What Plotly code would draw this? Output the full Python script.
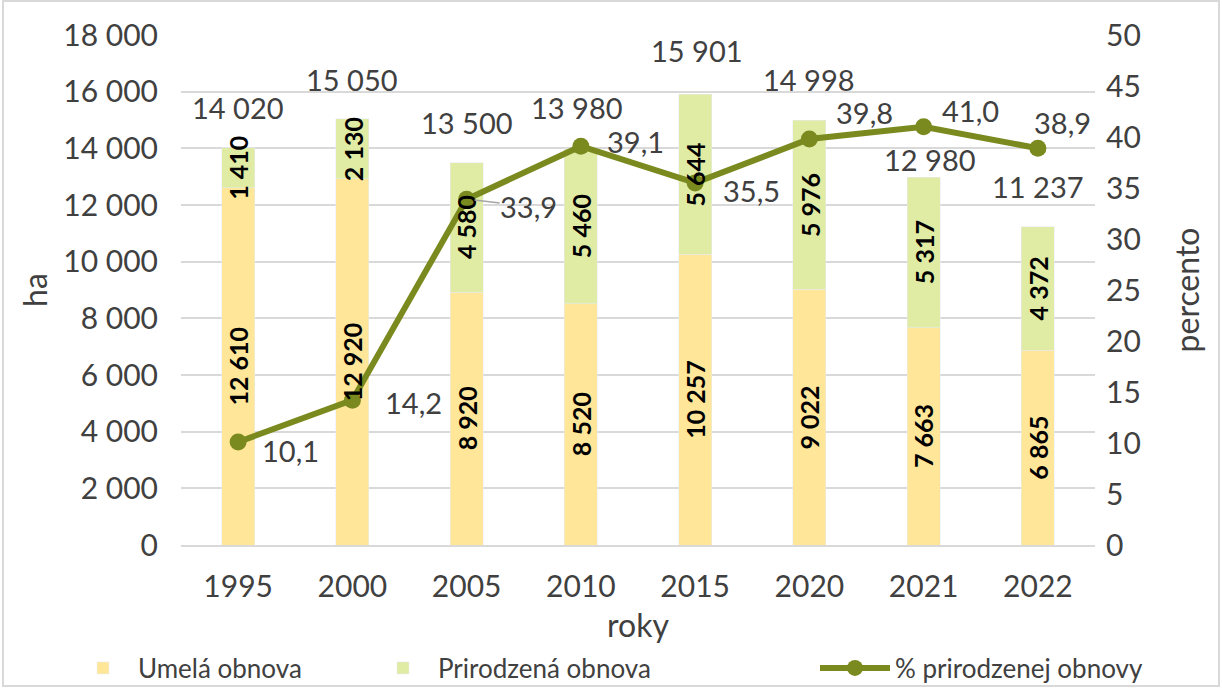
import plotly.graph_objects as go

years = ["1995", "2000", "2005", "2010", "2015", "2020", "2021", "2022"]
umela = [12610, 12920, 8920, 8520, 10257, 9022, 7663, 6865]
prirodzena = [1410, 2130, 4580, 5460, 5644, 5976, 5317, 4372]
spolu = [14020, 15050, 13500, 13980, 15901, 14998, 12980, 11237]
percento = [10.1, 14.2, 33.9, 39.1, 35.5, 39.8, 41.0, 38.9]

# label offsets (pixels) – styling only
total_shift = [40, 39, 40, 41, 44, 41, 18, 40]
total_xshift = [0, 0, 0, -4, 2, 0, 6, 0]
pct_off = [(52, 9), (61, 2), (62, 7), (55, -5), (56, 8), (55, -27), (47, -16), (25, -26)]

FONT = "Lato"
C_Y = "#FFE699"
C_G = "#E0EBA3"
C_L = "#7A8A1E"
C_T = "#404040"

fig = go.Figure()
fig.add_trace(go.Bar(x=years, y=umela, name="Umelá obnova", marker_color=C_Y,
                     width=0.29, legend="legend"))
fig.add_trace(go.Bar(x=years, y=prirodzena, name="Prirodzená obnova", marker_color=C_G,
                     width=0.29, legend="legend"))
fig.add_trace(go.Scatter(x=years, y=percento, name="% prirodzenej obnovy", yaxis="y2",
                         mode="lines+markers", line=dict(color=C_L, width=6),
                         marker=dict(size=17, color=C_L), legend="legend2"))

def fmt(v):
    return f"{v:,}".replace(",", " ")

ann = []
for i, yr in enumerate(years):
    # on a category axis, annotations are placed by category index
    ann.append(dict(x=i, y=umela[i] / 2, text=fmt(umela[i]), textangle=-90, showarrow=False,
                    font=dict(family=FONT, size=25, color="#000000", weight="bold")))
    ann.append(dict(x=i, y=umela[i] + prirodzena[i] / 2, text=fmt(prirodzena[i]), textangle=-90,
                    showarrow=False, font=dict(family=FONT, size=25, color="#000000", weight="bold")))
    ann.append(dict(x=i, y=spolu[i], text=fmt(spolu[i]), showarrow=False, yshift=total_shift[i],
                    xshift=total_xshift[i], borderpad=0, font=dict(family=FONT, size=29, color=C_T)))
    dx, dy = pct_off[i]
    if i == 2:
        ann.append(dict(x=i, y=percento[i], yref="y2", text=f"{percento[i]:.1f}".replace(".", ","),
                        showarrow=True, arrowhead=0, arrowwidth=1.5, arrowcolor="#A6A6A6",
                        ax=dx, ay=dy, standoff=8, borderpad=0,
                        font=dict(family=FONT, size=29, color=C_T)))
    else:
        ann.append(dict(x=i, y=percento[i], yref="y2", text=f"{percento[i]:.1f}".replace(".", ","),
                        showarrow=False, xshift=dx, yshift=-dy, borderpad=0,
                        font=dict(family=FONT, size=29, color=C_T)))

W, H = 1222, 688
L, R, T, B = 181, 127, 35, 143
PW, PH = W - L - R, H - T - B

fig.update_layout(
    width=W, height=H,
    margin=dict(l=L, r=R, t=T, b=B),
    paper_bgcolor="white", plot_bgcolor="white",
    barmode="stack", separators=", ",
    font=dict(family=FONT, size=30, color=C_T),
    xaxis=dict(type="category", range=[-0.5, len(years) - 0.5], automargin=False,
               title=dict(text="roky", font=dict(size=32), standoff=16),
               showgrid=False, showline=True, linecolor="#D9D9D9", linewidth=2,
               tickfont=dict(size=30), ticks="", ticklabelstandoff=14),
    yaxis=dict(title=dict(text="ha", font=dict(size=32), standoff=6), automargin=False,
               range=[0, 18000], dtick=2000, tickformat=",", gridcolor="#D9D9D9", gridwidth=2,
               zeroline=False, tickfont=dict(size=30), ticks="", ticklabelstandoff=22),
    yaxis2=dict(title=dict(text="percento", font=dict(size=32), standoff=36), automargin=False,
                overlaying="y", side="right", range=[0, 50], dtick=5, showgrid=False,
                zeroline=False, tickfont=dict(size=30), ticks="", ticklabelstandoff=10),
    annotations=ann,
    showlegend=True,
    legend=dict(orientation="h", xref="container", yref="container",
                x=68 / W, xanchor="left", y=1 - 668 / H, yanchor="middle",
                entrywidth=225, entrywidthmode="pixels", font=dict(size=26), itemwidth=60,
                traceorder="normal", bgcolor="rgba(0,0,0,0)"),
    legend2=dict(orientation="h", xref="container", yref="container",
                 x=815 / W, xanchor="left", y=1 - 668 / H, yanchor="middle",
                 font=dict(size=26), itemwidth=70, bgcolor="rgba(0,0,0,0)"),
    shapes=[dict(type="rect", xref="paper", yref="paper",
                 x0=(3 - L) / PW, x1=(W - 3 - L) / PW, y0=(T + PH - (H - 2)) / PH, y1=(T + PH - 1) / PH,
                 line=dict(color="#D9D9D9", width=2), fillcolor="rgba(0,0,0,0)", layer="below")],
)

fig.write_html("out.html", config={"displayModeBar": False},
               post_script="document.body.style.margin='0';document.body.style.padding='0';")
